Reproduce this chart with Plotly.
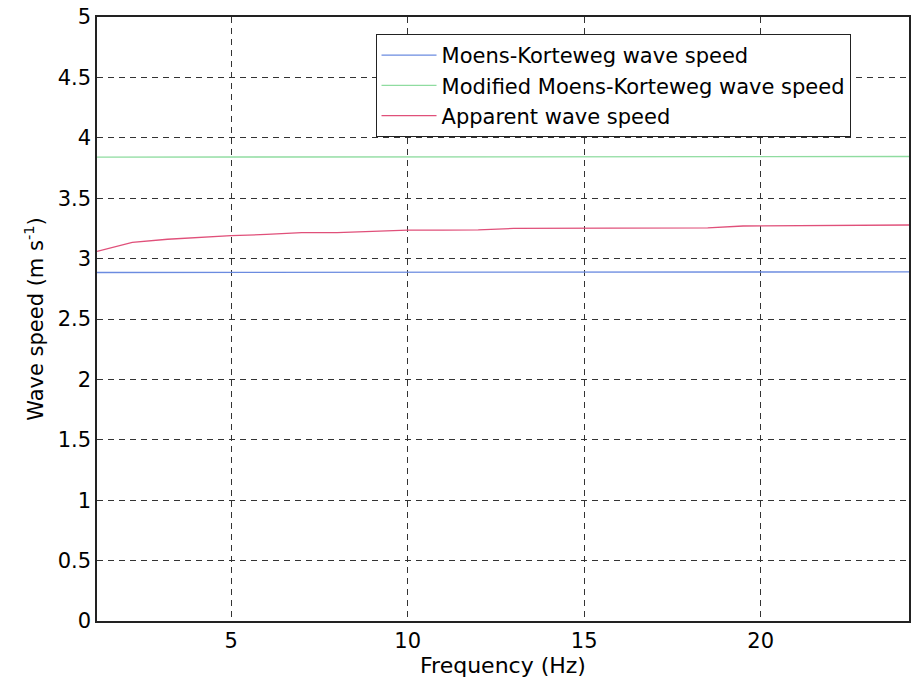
import plotly.graph_objects as go

freq_mk = [1.2, 24.2]
mk_speed = [2.885, 2.89]
freq_mod = [1.2, 24.2]
mod_speed = [3.84, 3.845]
freq_app = [1.2, 2.2, 3.2, 4.2, 5.0, 6.0, 7.0, 8.0, 9.0, 10.0, 11.0, 12.0, 13.0,
            14.0, 15.0, 16.0, 17.0, 18.5, 19.5, 20.5, 22.0, 24.2]
app_speed = [3.06, 3.135, 3.16, 3.18, 3.19, 3.2, 3.215, 3.215, 3.225, 3.235, 3.235, 3.238, 3.25,
             3.25, 3.252, 3.252, 3.253, 3.255, 3.27, 3.272, 3.275, 3.278]

yticks = [0, 0.5, 1, 1.5, 2, 2.5, 3, 3.5, 4, 4.5, 5]
ytick_text = ["0", "0.5", "1", "1.5", "2", "2.5", "3", "3.5", "4", "4.5", "5"]
xticks = [5, 10, 15, 20]

FONT = "DejaVu Sans, Liberation Sans, Arial, sans-serif"

fig = go.Figure()
fig.add_trace(go.Scatter(x=freq_mk, y=mk_speed, mode="lines",
                         name="Moens-Korteweg wave speed",
                         line=dict(color="#6b8be0", width=1.3)))
fig.add_trace(go.Scatter(x=freq_mod, y=mod_speed, mode="lines",
                         name="Modified Moens-Korteweg wave speed",
                         line=dict(color="#8fdca0", width=1.3)))
fig.add_trace(go.Scatter(x=freq_app, y=app_speed, mode="lines",
                         name="Apparent wave speed",
                         line=dict(color="#e0507a", width=1.3)))

fig.update_layout(
    width=911, height=686,
    margin=dict(l=97, r=0, t=17, b=65),
    paper_bgcolor="white", plot_bgcolor="white",
    font=dict(family=FONT, size=20, color="black"),
    showlegend=True,
    legend=dict(x=0.343, y=0.972, xanchor="left", yanchor="top",
                bgcolor="white", bordercolor="#222", borderwidth=1,
                font=dict(family=FONT, size=21), itemwidth=55, tracegroupgap=0),
    xaxis=dict(range=[1.2, 24.2], tickvals=xticks, showgrid=True,
               gridcolor="#333", griddash="6px,5px", gridwidth=1,
               showline=True, linecolor="#222", linewidth=1.5, mirror=True,
               ticks="", zeroline=False, tickfont=dict(size=21),
               title=dict(text="Frequency (Hz)", standoff=6, font=dict(size=22))),
    yaxis=dict(range=[0, 5], tickvals=yticks, ticktext=ytick_text, showgrid=True,
               gridcolor="#333", griddash="6px,5px", gridwidth=1,
               showline=True, linecolor="#222", linewidth=1.5, mirror=True,
               ticks="", zeroline=False, tickfont=dict(size=21),
               title=dict(text="Wave speed (m s<sup>-1</sup>)", standoff=8, font=dict(size=21))),
)

fig.write_html("out.html")
